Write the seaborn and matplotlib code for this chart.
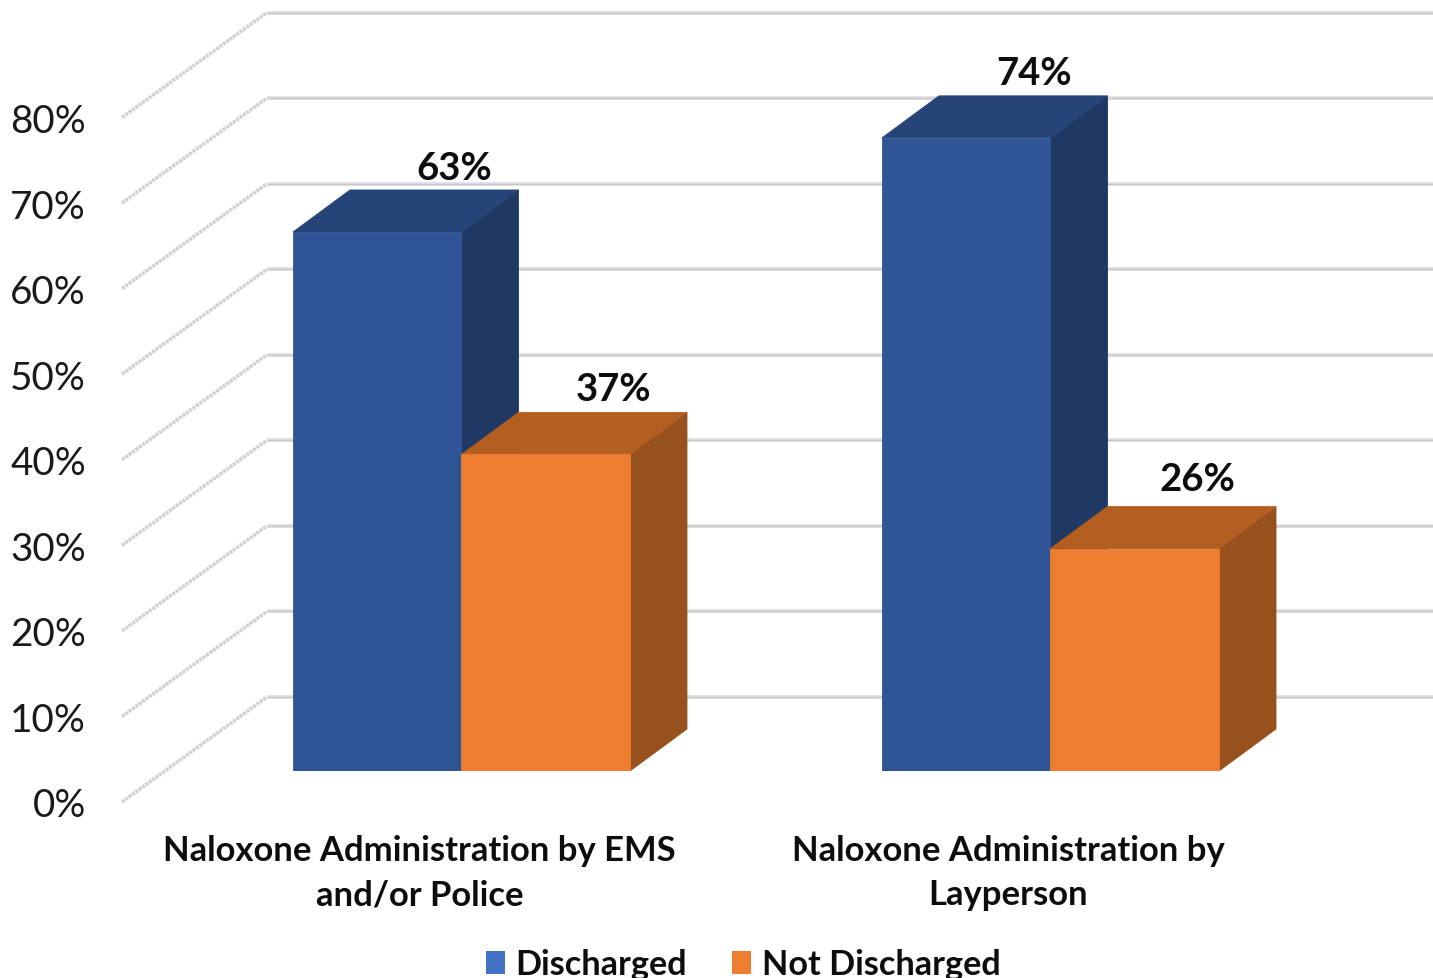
import matplotlib
matplotlib.use("Agg")
import matplotlib.pyplot as plt
from matplotlib.patches import Patch, Polygon
import pandas as pd
import seaborn as sns

# Chart data
categories = ["Naloxone Administration by EMS\nand/or Police",
              "Naloxone Administration by\nLayperson"]
series_names = ["Discharged", "Not Discharged"]
discharged = [63, 74]
not_discharged = [37, 26]
y_ticks = [0, 10, 20, 30, 40, 50, 60, 70, 80]

# Colours: front, top and side faces of the blocks, plus legend swatches
front_colors = ["#2F5597", "#ED7D31"]
top_colors = ["#264478", "#B45F22"]
side_colors = ["#203864", "#97511C"]
legend_colors = ["#4472C4", "#ED7D31"]

W, H = 1433, 979
PX_PER_PCT = 8.556
BASE_Y = 772          # pixel row of the block bases
FLOOR_Y = 803         # pixel row of the 0% line at the front of the floor
WALL_X = 122          # pixel column where the floor starts
GROUP_STEP = 589      # pixels between the two groups
GROUP_WIDTH = 337     # pixels across one group
GROUP0_X = 461.5      # pixel column of the first group's centre
BAR_DX, BAR_DY = 57, 42      # oblique depth of each block
WALL_DX, WALL_DY = 145, 105  # oblique depth of the floor and side wall

sns.set_theme(style="white")
plt.rcParams["font.family"] = ["Lato", "DejaVu Sans"]

fig = plt.figure(figsize=(W / 100, H / 100), dpi=100, facecolor="white")

# Side wall, back wall and the percent scale
wall = fig.add_axes([WALL_X / W, 1 - FLOOR_Y / H,
                     1 - WALL_X / W, 80 * PX_PER_PCT / H])
wall.set_xlim(0, W - WALL_X)
wall.set_ylim(0, 80)
wall.set_yticks(y_ticks)
wall.set_yticklabels([f"{v}%" for v in y_ticks], fontsize=27.8, color="#1a1a1a")
wall.tick_params(axis="y", length=0, pad=26)
wall.set_xticks([])
sns.despine(ax=wall, left=True, bottom=True)
wall.patch.set_visible(False)
depth_pct = WALL_DY / PX_PER_PCT
for v in y_ticks:
    back = v + depth_pct
    wall.plot([0, WALL_DX], [v, back], color="#d2d2d2", lw=2.6, ls=(0, (0.9, 0.25)),
              clip_on=False, solid_capstyle="butt")
    wall.plot([WALL_DX, W - WALL_X], [back, back], color="#e0e0e0", lw=2.7,
              clip_on=False, solid_capstyle="butt")
    wall.plot([WALL_DX, W - WALL_X], [back, back], color="#c8c8c8", lw=0.9,
              clip_on=False, solid_capstyle="butt")

# Front faces of the blocks, placed by seaborn
table = pd.DataFrame({
    "category": categories * 2,
    "series": [series_names[0]] * 2 + [series_names[1]] * 2,
    "value": discharged + not_discharged,
})
ax = fig.add_axes([0, 1 - BASE_Y / H, 1, BASE_Y / H])
ax.patch.set_visible(False)
sns.barplot(data=table, x="category", y="value", hue="series",
            hue_order=series_names, palette=front_colors, order=categories,
            width=GROUP_WIDTH / GROUP_STEP, gap=0, legend=False, ax=ax,
            saturation=1, edgecolor="none", linewidth=0)
ax.set_xlim(-GROUP0_X / GROUP_STEP, (W - GROUP0_X) / GROUP_STEP)
ax.set_ylim(0, BASE_Y / PX_PER_PCT)
ax.set_xlabel("")
ax.set_ylabel("")
ax.set_yticks([])
sns.despine(ax=ax, left=True, bottom=True)

# Category labels sit left of the group centres because of the oblique view
label_shift = 42 / GROUP_STEP
ax.set_xticks([i - label_shift for i in range(len(categories))])
ax.set_xticklabels(categories, fontsize=24.9, fontweight="bold", color="#0d0d0d",
                   linespacing=1.46)
ax.tick_params(axis="x", length=0, pad=45.5)

# Extrude each seaborn bar into top and side faces
dx = BAR_DX / GROUP_STEP
dy = BAR_DY / PX_PER_PCT
label_nudges = [[(77, 64), (68, 65)], [(68, 65), (63, 70)]]
for s, container in enumerate(ax.containers):
    for c, bar in enumerate(container):
        x0, w, h = bar.get_x(), bar.get_width(), bar.get_height()
        x1 = x0 + w
        base = 2 * s + 2
        ax.add_patch(Polygon([(x1, 0), (x1 + dx, dy), (x1 + dx, h + dy), (x1, h)],
                             closed=True, fc=side_colors[s], ec=side_colors[s],
                             lw=0.6, zorder=base))
        ax.add_patch(Polygon([(x0, h), (x0 + dx, h + dy), (x1 + dx, h + dy), (x1, h)],
                             closed=True, fc=top_colors[s], ec=top_colors[s],
                             lw=0.6, zorder=base + 0.5))
        bar.set_zorder(base + 1)
        bar.set_edgecolor(front_colors[s])
        bar.set_linewidth(0.6)
        nudge = label_nudges[s][c]
        ax.annotate(f"{h:.0f}%", xy=(x0 + w / 2, h), xytext=nudge,
                    textcoords="offset pixels", ha="center", va="center",
                    fontsize=27.5, fontweight="bold", color="#0d0d0d", zorder=10)

# Legend swatches use the lighter series colours
handles = [Patch(fc=c, ec="none", label=n) for c, n in zip(legend_colors, series_names)]
fig.legend(handles=handles, ncol=2, loc="lower center",
           bbox_to_anchor=(743 / W, -0.02), frameon=False,
           prop={"weight": "bold", "size": 24.7, "family": "Lato"},
           handlelength=0.55, handleheight=0.65, handletextpad=0.32, columnspacing=1.3,
           labelcolor="#0d0d0d", borderpad=0)

fig.savefig("out.png", dpi=100, facecolor="white")
